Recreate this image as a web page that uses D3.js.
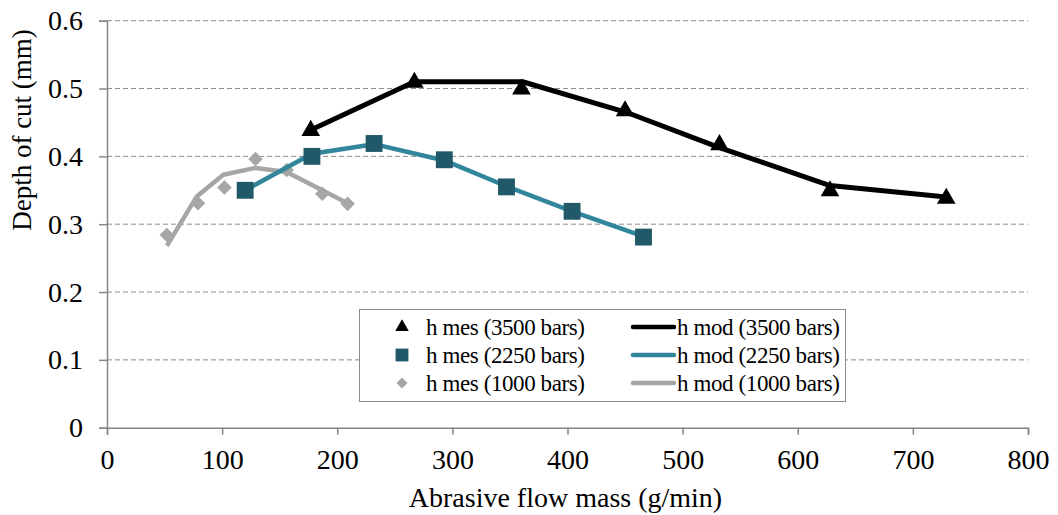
<!DOCTYPE html>
<html>
<head>
<meta charset="utf-8">
<script src="https://cdn.jsdelivr.net/npm/d3@7/dist/d3.min.js"></script>
<style>
  html, body { margin: 0; padding: 0; background: #fff; }
  svg { display: block; }
  svg text { font-family: "Liberation Serif", "Times New Roman", serif; fill: #000; }
</style>
</head>
<body>
<svg id="chart" width="1058" height="515"></svg>
<script>
// Measured depth of cut (markers) and model curves (lines), per pump pressure
const mes3500 = [[177, 0.438], [267, 0.509], [360, 0.499], [450, 0.467], [532, 0.417], [628, 0.349], [729, 0.338]];
const mes2250 = [[120, 0.350], [178, 0.400], [232, 0.419], [293, 0.395], [347, 0.355], [404, 0.319], [466, 0.281]];
const mes1000 = [[52, 0.284], [79, 0.331], [102, 0.354], [129, 0.396], [156, 0.380], [187, 0.345], [209, 0.330]];

const mod3500 = [[176, 0.438], [267, 0.510], [361, 0.510], [451, 0.465], [532, 0.413], [628, 0.357], [729, 0.340]];
const mod2250 = [[120, 0.350], [178, 0.404], [232, 0.418], [293, 0.394], [347, 0.356], [404, 0.319], [466, 0.282]];
const mod1000 = [[52, 0.268], [78, 0.341], [101, 0.373], [129, 0.383], [156, 0.377], [187, 0.350], [209, 0.331]];

const xTicks = [0, 100, 200, 300, 400, 500, 600, 700, 800];
const yTicks = [0, 0.1, 0.2, 0.3, 0.4, 0.5, 0.6];

const legendMes = ["h mes (3500 bars)", "h mes (2250 bars)", "h mes (1000 bars)"];
const legendMod = ["h mod (3500 bars)", "h mod (2250 bars)", "h mod (1000 bars)"];

const svg = d3.select("#chart");
const plotLeft = 107, plotRight = 1028, plotTop = 20.7, plotBottom = 427.7;

const x = d3.scaleLinear().domain([0, 800]).range([plotLeft, plotRight]);
const y = d3.scaleLinear().domain([0, 0.6]).range([plotBottom, plotTop]);

const axisColor = "#868686";

// Horizontal dashed gridlines
svg.append("g")
  .selectAll("line")
  .data(yTicks.filter(d => d > 0))
  .join("line")
  .attr("x1", plotLeft).attr("x2", plotRight)
  .attr("y1", d => y(d)).attr("y2", d => y(d))
  .attr("stroke", "#8c8c8c")
  .attr("stroke-width", 1)
  .attr("stroke-dasharray", "5,3");

// Y axis
const yAxis = svg.append("g")
  .attr("transform", `translate(${plotLeft},0)`)
  .call(d3.axisLeft(y).tickValues(yTicks).tickSize(8).tickPadding(16)
    .tickFormat(d => d === 0 ? "0" : d3.format(".1f")(d)));
yAxis.attr("font-family", null).attr("font-size", null);
yAxis.select(".domain").attr("stroke", axisColor).attr("stroke-width", 1.5);
yAxis.selectAll(".tick line").attr("stroke", axisColor).attr("stroke-width", 1.5);
yAxis.selectAll(".tick text").style("font-size", "28px");

// X axis
const xAxis = svg.append("g")
  .attr("transform", `translate(0,${plotBottom})`)
  .call(d3.axisBottom(x).tickValues(xTicks).tickSize(7).tickSizeOuter(7).tickPadding(14));
xAxis.attr("font-family", null).attr("font-size", null);
xAxis.select(".domain").attr("stroke", axisColor).attr("stroke-width", 1.5);
xAxis.selectAll(".tick line").attr("stroke", axisColor).attr("stroke-width", 1.5);
xAxis.selectAll(".tick text").style("font-size", "28px");

// Axis titles
svg.append("text")
  .attr("x", (plotLeft + plotRight) / 2 - 2).attr("y", 507)
  .attr("text-anchor", "middle")
  .style("font-size", "28px")
  .text("Abrasive flow mass (g/min)");

svg.append("text")
  .attr("transform", "translate(31,130) rotate(-90)")
  .attr("text-anchor", "middle")
  .style("font-size", "27px")
  .text("Depth of cut (mm)");

// Series styles
const series = [
  { mes: mes3500, mod: mod3500, line: "#000000", marker: "#000000", symbol: d3.symbolTriangle, size: 150, lsize: 80, width: 5 },
  { mes: mes2250, mod: mod2250, line: "#31869b", marker: "#215968", symbol: d3.symbolSquare, size: 285, lsize: 165, width: 4.5 },
  { mes: mes1000, mod: mod1000, line: "#a6a6a6", marker: "#a6a6a6", symbol: d3.symbolDiamond2, size: 135, lsize: 80, width: 4.5 }
];

const line = d3.line().x(d => x(d[0])).y(d => y(d[1]));

// Draw back-to-front: 1000, 2250, 3500
series.slice().reverse().forEach(s => {
  svg.append("path")
    .datum(s.mod)
    .attr("d", line)
    .attr("fill", "none")
    .attr("stroke", s.line)
    .attr("stroke-width", s.width)
    .attr("stroke-linejoin", "round");
  svg.append("g")
    .selectAll("path")
    .data(s.mes)
    .join("path")
    .attr("transform", d => `translate(${x(d[0])},${y(d[1])})`)
    .attr("d", d3.symbol().type(s.symbol).size(s.size))
    .attr("fill", s.marker);
});

// Legend
const lg = svg.append("g");
lg.append("rect")
  .attr("x", 359.5).attr("y", 309.5)
  .attr("width", 486).attr("height", 92)
  .attr("fill", "#fff")
  .attr("stroke", "#8c8c8c").attr("stroke-width", 1);

const rowY = [327, 355, 383];
series.forEach((s, i) => {
  lg.append("path")
    .attr("transform", `translate(402,${rowY[i]})`)
    .attr("d", d3.symbol().type(s.symbol).size(s.lsize))
    .attr("fill", s.marker);
  lg.append("text")
    .attr("x", 426).attr("y", rowY[i])
    .attr("dy", "0.35em")
    .style("font-size", "23px")
    .attr("textLength", 159)
    .text(legendMes[i]);
  lg.append("line")
    .attr("x1", 633).attr("x2", 674)
    .attr("y1", rowY[i]).attr("y2", rowY[i])
    .attr("stroke", s.line)
    .attr("stroke-width", 4.5)
    .attr("stroke-linecap", "round");
  lg.append("text")
    .attr("x", 677).attr("y", rowY[i])
    .attr("dy", "0.35em")
    .style("font-size", "23px")
    .attr("textLength", 163)
    .text(legendMod[i]);
});
</script>
</body>
</html>
